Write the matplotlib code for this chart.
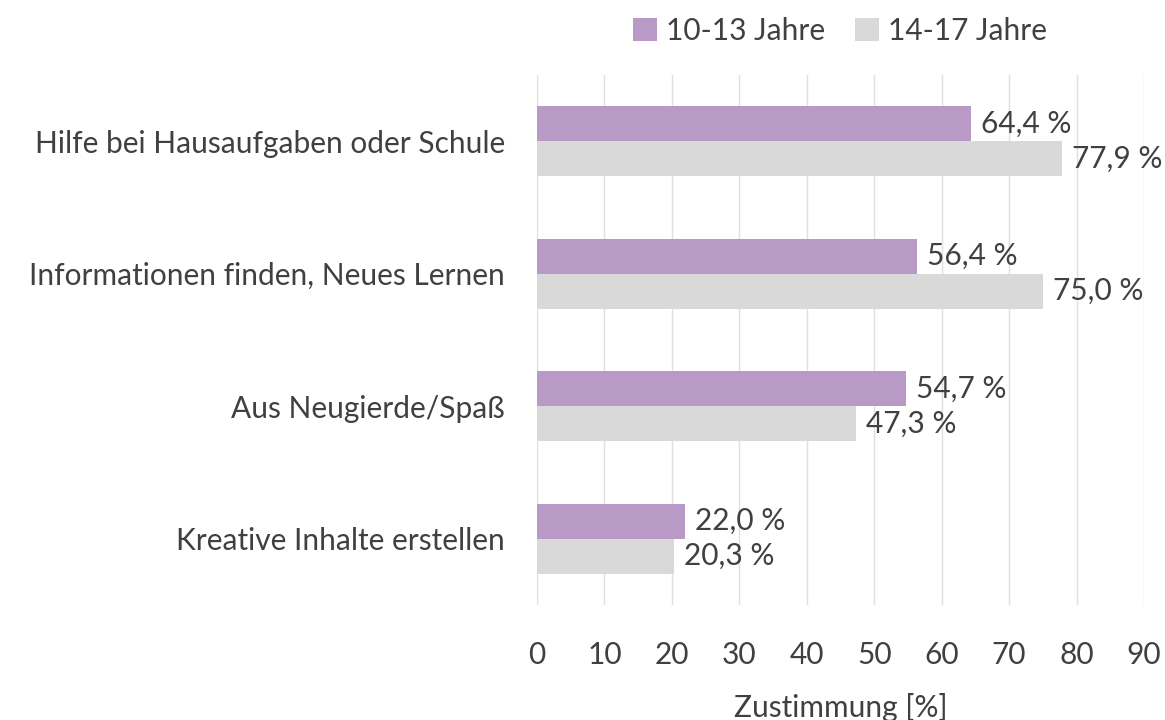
import matplotlib
matplotlib.use("Agg")
import matplotlib.pyplot as plt
import numpy as np

categories = ["Hilfe bei Hausaufgaben oder Schule", "Informationen finden, Neues Lernen",
              "Aus Neugierde/Spaß", "Kreative Inhalte erstellen"]
series_names = ["10-13 Jahre", "14-17 Jahre"]
vals_young = [64.4, 56.4, 54.7, 22.0]
vals_old = [77.9, 75.0, 47.3, 20.3]
xticks = [0, 10, 20, 30, 40, 50, 60, 70, 80, 90]
xlabel = "Zustimmung [%]"

colors = ["#B99AC6", "#D9D9D9"]
txt = "#404040"
plt.rcParams['font.family'] = ['Lato', 'DejaVu Sans']

fig = plt.figure(figsize=(11.65, 7.2), dpi=100)
ax = fig.add_axes([537/1165, 1-605/720, (1144-537)/1165, (605-75)/720])

n = len(categories)
y = np.arange(n)
h = 0.264
fs = 21.5
b1 = ax.barh(y - h/2, vals_young, height=h, color=colors[0], label=series_names[0], zorder=2)
b2 = ax.barh(y + h/2, vals_old, height=h, color=colors[1], label=series_names[1], zorder=2)
for bars, vals in ((b1, vals_young), (b2, vals_old)):
    for rect, v in zip(bars, vals):
        ax.annotate(f"{v:.1f} %".replace(".", ","), (v, rect.get_y() + rect.get_height()/2),
                    xytext=(7, 0), textcoords="offset points", va="center", ha="left",
                    fontsize=fs, color=txt)

ax.set_ylim(n - 0.5, -0.5)
ax.set_xlim(0, 90)
ax.set_yticks(y)
ax.set_yticklabels(categories, fontsize=fs, color=txt)
ax.set_xticks(xticks)
ax.set_xticklabels([str(t) for t in xticks], fontsize=fs, color=txt)
ax.tick_params(axis='both', length=0)
ax.tick_params(axis='y', pad=23)
ax.tick_params(axis='x', pad=26)
ax.grid(axis='x', color="#E0E0E0", linewidth=1, zorder=0)
for s in ax.spines.values():
    s.set_visible(False)
ax.set_xlabel(xlabel, fontsize=fs, color=txt, labelpad=17)

leg = fig.legend(handles=[b1, b2], labels=series_names, loc='center', bbox_to_anchor=(840/1165, 1-31/720),
                 ncol=2, frameon=False, fontsize=fs, handlelength=0.8, handleheight=0.8,
                 handletextpad=0.3, columnspacing=1.0, labelcolor=txt)

fig.savefig("out.png", dpi=100)
